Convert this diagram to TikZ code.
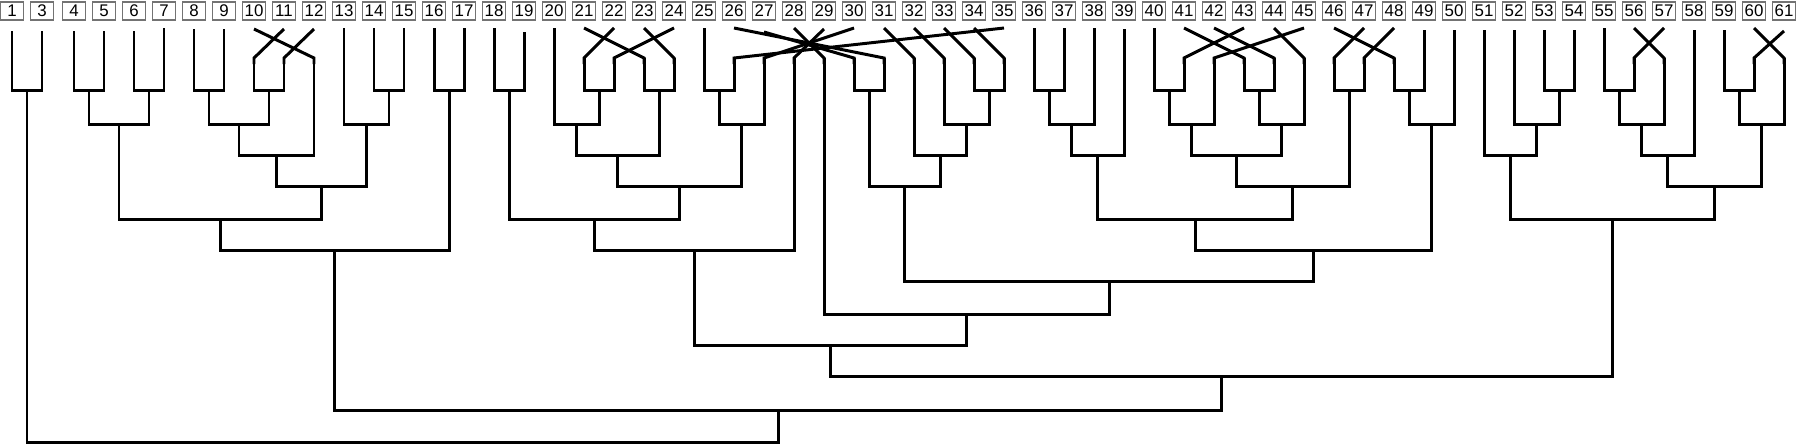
\documentclass[tikz,border=0pt]{standalone}
\usepackage{fontspec}
\setmainfont{Liberation Sans}
\usetikzlibrary{calc}
\newcommand{\jn}[4]{%
  \coordinate (#1) at ($(#2 |- L#4)!0.5!(#3 |- L#4)$);
  \draw[tree] (#2) |- (#1) -| (#3);}
\begin{document}
\begin{tikzpicture}[x=1cm,y=1cm,
  tree/.style={line width=0.85pt, black, line join=miter},
  lab/.style={draw=black!55, line width=0.35pt, minimum width=0.23cm,
    minimum height=0.18cm, inner sep=0pt, font=\fontsize{4.8}{5}\selectfont}]
\useasboundingbox (0,0) rectangle (18,-4.44);
\foreach \lv/\yy in {1/0.90,2/1.24,3/1.55,4/1.86,5/2.19,6/2.50,7/2.81,8/3.14,9/3.45,10/3.76,11/4.10,12/4.42}
  \coordinate (L\lv) at (0,-\yy);
\foreach \lbl/\tgt/\ty in {1/1/0.31,3/3/0.31,4/4/0.31,5/5/0.31,6/6/0.31,7/7/0.28,8/8/0.29,9/9/0.29,10/12/0.29,11/10/0.29,12/11/0.29,13/13/0.28,14/14/0.28,15/15/0.28,16/16/0.28,17/17/0.28,18/18/0.28,19/19/0.32,20/20/0.28,21/23/0.28,22/21/0.28,23/24/0.28,24/22/0.28,25/25/0.28,26/31/0.28,27/30/0.32,28/29/0.28,29/28/0.29,30/27/0.28,31/32/0.28,32/33/0.28,33/34/0.28,34/35/0.28,35/26/0.28,36/36/0.28,37/37/0.28,38/38/0.28,39/39/0.29,40/40/0.28,41/43/0.28,42/44/0.28,43/41/0.28,44/45/0.28,45/42/0.28,46/48/0.28,47/46/0.28,48/47/0.28,49/49/0.30,50/50/0.30,51/51/0.30,52/52/0.30,53/53/0.30,54/54/0.30,55/55/0.28,56/57/0.28,57/56/0.28,58/58/0.30,59/59/0.30,60/61/0.28,61/60/0.31}{
  \pgfmathsetmacro\xa{\lbl==1 ? 0.12 : (\lbl==3 ? 0.42 : 0.14+0.3*(\lbl-2))}
  \pgfmathsetmacro\xb{\tgt==1 ? 0.12 : (\tgt==3 ? 0.42 : 0.14+0.3*(\tgt-2))}
  \node[lab] (l\lbl) at (\xa,-0.11) {\lbl};
  \coordinate (t\lbl) at (\xa,-\ty);
  \ifnum\lbl=\tgt
    \coordinate (b\lbl) at (t\lbl);
  \else
    \coordinate (b\lbl) at (\xb,-0.58);
    \draw[tree] (t\lbl) -- (b\lbl) -- ++(0,-0.06);
  \fi
}
\jn{A}{b1}{b3}{1}
\jn{B1}{b4}{b5}{1}
\jn{B2}{b6}{b7}{1}
\jn{B}{B1}{B2}{2}
\jn{C1}{b8}{b9}{1}
\jn{C2}{b11}{b12}{1}
\jn{C3}{C1}{C2}{2}
\jn{C}{C3}{b10}{3}
\jn{D1}{b14}{b15}{1}
\jn{D}{b13}{D1}{2}
\jn{E}{C}{D}{4}
\jn{F}{B}{E}{5}
\jn{G1}{b16}{b17}{1}
\jn{G}{F}{G1}{6}
\jn{H1}{b18}{b19}{1}
\jn{I1}{b22}{b24}{1}
\jn{I2}{b20}{I1}{2}
\jn{I3}{b21}{b23}{1}
\jn{I}{I2}{I3}{3}
\jn{J1}{b25}{b35}{1}
\jn{J}{J1}{b30}{2}
\jn{K}{I}{J}{4}
\jn{M}{H1}{K}{5}
\jn{N}{M}{b29}{6}
\jn{O1}{b27}{b26}{1}
\jn{P1}{b33}{b34}{1}
\jn{P2}{b32}{P1}{2}
\jn{P3}{b31}{P2}{3}
\jn{Q}{O1}{P3}{4}
\jn{R1}{b36}{b37}{1}
\jn{R2}{R1}{b38}{2}
\jn{R}{R2}{b39}{3}
\jn{S1}{b40}{b43}{1}
\jn{S2}{S1}{b45}{2}
\jn{S3}{b41}{b42}{1}
\jn{S4}{S3}{b44}{2}
\jn{S5}{S2}{S4}{3}
\jn{T1}{b47}{b48}{1}
\jn{S}{S5}{T1}{4}
\jn{U}{R}{S}{5}
\jn{V1}{b46}{b49}{1}
\jn{V}{V1}{b50}{2}
\jn{W}{U}{V}{6}
\jn{X}{Q}{W}{7}
\jn{Y}{b28}{X}{8}
\jn{Z}{N}{Y}{9}
\jn{AA1}{b53}{b54}{1}
\jn{AA2}{b52}{AA1}{2}
\jn{AA}{b51}{AA2}{3}
\jn{AB1}{b55}{b57}{1}
\jn{AB2}{AB1}{b56}{2}
\jn{AB3}{AB2}{b58}{3}
\jn{AC1}{b59}{b61}{1}
\jn{AC}{AC1}{b60}{2}
\jn{AD}{AB3}{AC}{4}
\jn{AE}{AA}{AD}{5}
\jn{AF}{Z}{AE}{10}
\jn{AG}{G}{AF}{11}
\jn{RT}{A}{AG}{12}
\end{tikzpicture}
\end{document}
